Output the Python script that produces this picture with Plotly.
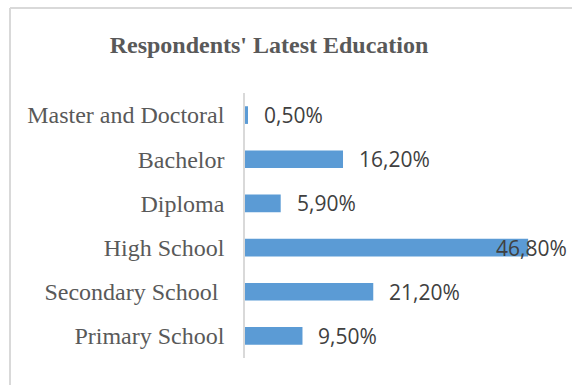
import plotly.graph_objects as go

categories = ["Primary School", "Secondary School\u00a0", "High School", "Diploma", "Bachelor", "Master and Doctoral"]
values = [9.5, 21.2, 46.8, 5.9, 16.2, 0.5]
labels = ["9,50%", "21,20%", "46,80%", "5,90%", "16,20%", "0,50%"]

W, H = 572, 385
ML, MR, MT, MB = 245, 0, 93, 27
PW, PH = W - ML - MR, H - MT - MB
XMAX = PW / 6.05

fig = go.Figure(go.Bar(
    x=values, y=categories, orientation="h",
    marker=dict(color="#5b9bd5", line=dict(width=0)),
    hoverinfo="skip",
))

annotations = []
vmax = max(values)
for c, v, t in zip(categories, values, labels):
    if v == vmax:
        annotations.append(dict(x=1, xref="paper", y=c, yref="y", text=t, showarrow=False,
                                xanchor="right", xshift=-3,
                                font=dict(family="Open Sans", size=21, color="#404040")))
    else:
        annotations.append(dict(x=v, xref="x", y=c, yref="y", text=t, showarrow=False,
                                xanchor="left", xshift=14,
                                font=dict(family="Open Sans", size=21, color="#404040")))

def px2paperx(px):
    return (px - ML) / PW

def py2papery(py):
    return 1 + (MT - py) / PH

frame_color = "#d9d9d9"
shapes = [
    dict(type="line", xref="paper", yref="paper", x0=px2paperx(10), x1=px2paperx(10),
         y0=py2papery(8), y1=py2papery(H + 5), line=dict(color=frame_color, width=2)),
    dict(type="line", xref="paper", yref="paper", x0=px2paperx(10), x1=px2paperx(W + 5),
         y0=py2papery(8), y1=py2papery(8), line=dict(color=frame_color, width=2)),
]

fig.update_layout(
    width=W, height=H,
    margin=dict(l=ML, r=MR, t=MT, b=MB),
    paper_bgcolor="white", plot_bgcolor="white",
    bargap=0.6,
    showlegend=False,
    title=dict(text="<b>Respondents' Latest Education</b>", x=269 / W, xref="container", xanchor="center",
               y=1 - 45 / H, yref="container", yanchor="middle",
               font=dict(family="Liberation Serif", size=24, color="#595959")),
    xaxis=dict(range=[0, XMAX], visible=False, fixedrange=True),
    yaxis=dict(showline=True, linecolor="#d9d9d9", linewidth=1.5, showgrid=False, zeroline=False,
               ticks="", ticklabelstandoff=14,
               tickfont=dict(family="Liberation Serif", size=24, color="#595959"),
               fixedrange=True),
    annotations=annotations,
    shapes=shapes,
)

fig.write_html("out.html")
